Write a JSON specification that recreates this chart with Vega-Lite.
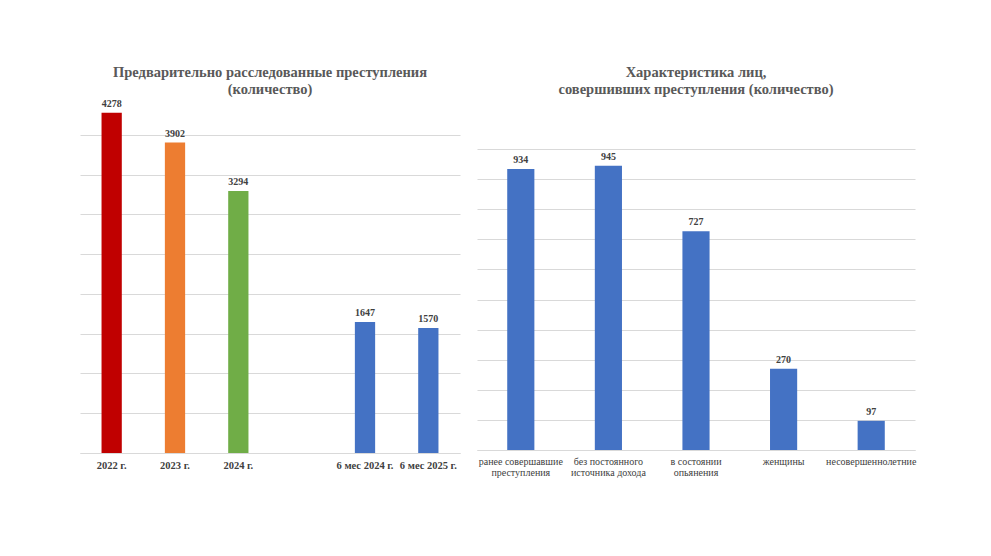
{
  "$schema": "https://vega.github.io/schema/vega-lite/v6.json",
  "description": "Two bar charts: investigated crimes and characteristics of offenders",
  "background": "white",
  "padding": {"left": 80, "top": 64, "right": 5, "bottom": 5},
  "bounds": "flush",
  "spacing": 17,
  "config": {
    "view": {"stroke": null},
    "font": "Liberation Serif",
    "title": {"font": "Liberation Serif", "fontSize": 14.5, "fontWeight": "bold", "color": "#595959", "anchor": "middle", "lineHeight": 17, "offset": -2},
    "axisX": {"title": null, "labelAngle": 0, "ticks": false, "domainColor": "#D9D9D9", "labelFont": "Liberation Serif", "labelFontSize": 10, "labelColor": "#404040"},
    "axisY": {"title": null, "labels": false, "ticks": false, "domain": false, "gridColor": "#D9D9D9"}
  },
  "hconcat": [
    {
      "title": {"text": ["Предварительно расследованные преступления", "(количество)"]},
      "width": 380,
      "height": 358,
      "data": {
        "values": [
          {"period": "2022 г.", "count": 4278},
          {"period": "2023 г.", "count": 3902},
          {"period": "2024 г.", "count": 3294},
          {"period": "6 мес 2024 г.", "count": 1647},
          {"period": "6 мес 2025 г.", "count": 1570}
        ]
      },
      "encoding": {
        "x": {
          "field": "period", "type": "nominal", "sort": null,
          "scale": {"domain": ["2022 г.", "2023 г.", "2024 г.", "", "6 мес 2024 г.", "6 мес 2025 г."], "paddingInner": 0.68, "paddingOuter": 0.34},
          "axis": {"labelFont": "Liberation Serif", "labelFontWeight": "bold", "labelFontSize": 10.5, "labelPadding": 7}
        },
        "y": {
          "field": "count", "type": "quantitative",
          "scale": {"domain": [0, 4500], "nice": false},
          "axis": {"values": [0, 500, 1000, 1500, 2000, 2500, 3000, 3500, 4000]}
        }
      },
      "layer": [
        {
          "mark": {"type": "bar"},
          "encoding": {
            "color": {
              "field": "period", "type": "nominal", "legend": null,
              "scale": {
                "domain": ["2022 г.", "2023 г.", "2024 г.", "6 мес 2024 г.", "6 мес 2025 г."],
                "range": ["#C00000", "#ED7D31", "#70AD47", "#4472C4", "#4472C4"]
              }
            }
          }
        },
        {
          "mark": {"type": "text", "baseline": "bottom", "dy": -4, "fontSize": 10, "fontWeight": "bold", "color": "#404040", "font": "Liberation Serif"},
          "encoding": {"text": {"field": "count", "type": "quantitative"}}
        }
      ]
    },
    {
      "title": {"text": ["Характеристика лиц,", "совершивших преступления (количество)"]},
      "width": 438,
      "height": 355,
      "data": {
        "values": [
          {"group": "ранее совершавшие|преступления", "count": 934},
          {"group": "без постоянного|источника дохода", "count": 945},
          {"group": "в состоянии|опьянения", "count": 727},
          {"group": "женщины", "count": 270},
          {"group": "несовершеннолетние", "count": 97}
        ]
      },
      "encoding": {
        "x": {
          "field": "group", "type": "nominal", "sort": null,
          "scale": {"paddingInner": 0.69, "paddingOuter": 0.345},
          "axis": {"labelExpr": "split(datum.label, '|')", "labelFont": "Liberation Serif", "labelPadding": 6, "labelLineHeight": 11}
        },
        "y": {
          "field": "count", "type": "quantitative",
          "scale": {"domain": [0, 1180], "nice": false},
          "axis": {"values": [0, 100, 200, 300, 400, 500, 600, 700, 800, 900, 1000]}
        }
      },
      "layer": [
        {"mark": {"type": "bar", "color": "#4472C4"}},
        {
          "mark": {"type": "text", "baseline": "bottom", "dy": -4, "fontSize": 10, "fontWeight": "bold", "color": "#404040", "font": "Liberation Serif"},
          "encoding": {"text": {"field": "count", "type": "quantitative"}}
        }
      ]
    }
  ]
}
